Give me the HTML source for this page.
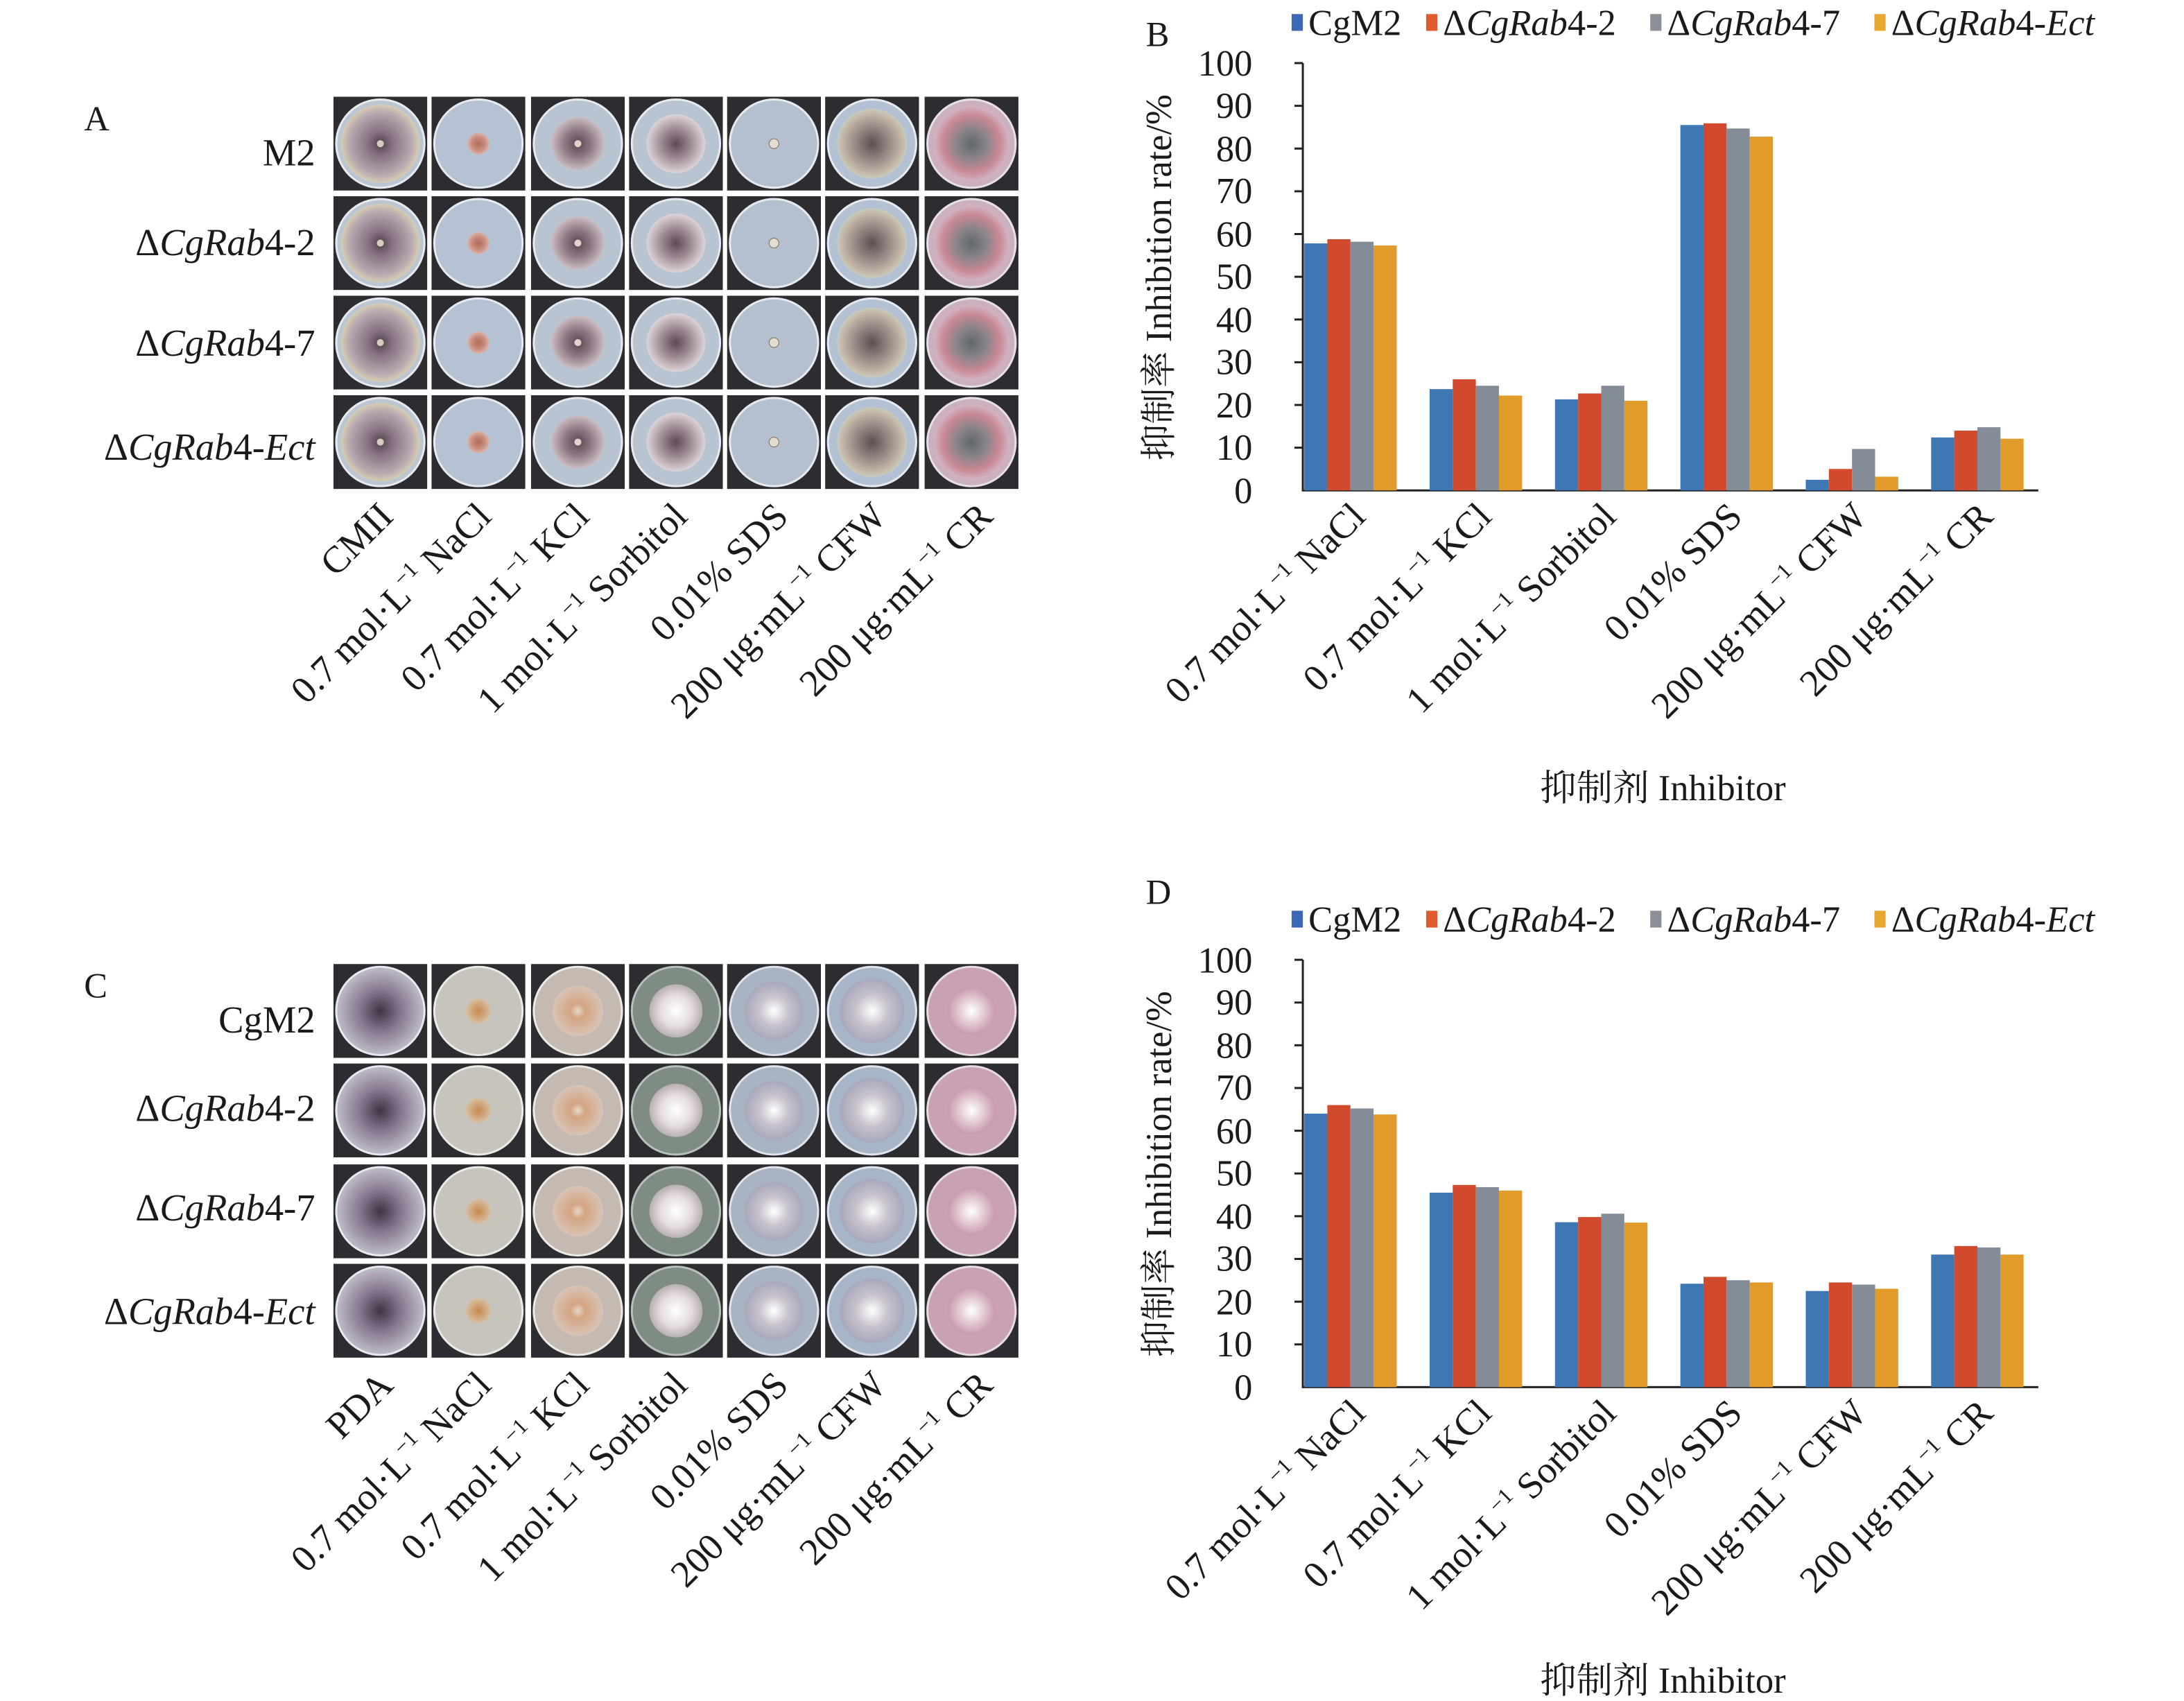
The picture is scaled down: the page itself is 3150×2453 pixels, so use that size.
<!DOCTYPE html>
<html><head><meta charset="utf-8"><style>
html,body{margin:0;padding:0;background:#fff}
svg{display:block}
text{font-family:"Liberation Serif","Noto Serif CJK SC",serif;fill:#1a1a1a}
.it{font-style:italic}
</style></head><body>
<svg width="3150" height="2453" viewBox="0 0 1559 1214" xmlns="http://www.w3.org/2000/svg">
<defs>
<radialGradient id="gA0"><stop offset="0" stop-color="#4f3f48"/><stop offset="0.3" stop-color="#857080"/><stop offset="0.8" stop-color="#b8a9b0"/><stop offset="1" stop-color="#d6cdb2"/></radialGradient>
<radialGradient id="gA1"><stop offset="0" stop-color="#b46a5c"/><stop offset="0.6" stop-color="#c98d7e"/><stop offset="1" stop-color="#d8b8b0"/></radialGradient>
<radialGradient id="gA2"><stop offset="0" stop-color="#5a4652"/><stop offset="0.5" stop-color="#8e7884"/><stop offset="1" stop-color="#cbbcc2"/></radialGradient>
<radialGradient id="gA3"><stop offset="0" stop-color="#5e4a56"/><stop offset="0.5" stop-color="#9e8a94"/><stop offset="1" stop-color="#ddd4d8"/></radialGradient>
<radialGradient id="gA5"><stop offset="0" stop-color="#5e4e4e"/><stop offset="0.5" stop-color="#9a8a88"/><stop offset="0.85" stop-color="#c4b6a6"/><stop offset="1" stop-color="#c8ccc0"/></radialGradient>
<radialGradient id="gA6"><stop offset="0" stop-color="#60686c"/><stop offset="0.4" stop-color="#8a848a"/><stop offset="0.75" stop-color="#c98894"/><stop offset="1" stop-color="#d2b4c4"/></radialGradient>
<radialGradient id="gC0"><stop offset="0" stop-color="#3e3446"/><stop offset="0.5" stop-color="#84768e"/><stop offset="1" stop-color="#b8b2c0"/></radialGradient>
<radialGradient id="gC1"><stop offset="0" stop-color="#c8884e"/><stop offset="1" stop-color="#d6c0a4"/></radialGradient>
<radialGradient id="gC2"><stop offset="0" stop-color="#e8d8cc"/><stop offset="0.3" stop-color="#d4a482"/><stop offset="1" stop-color="#d8c4b6"/></radialGradient>
<radialGradient id="gC3"><stop offset="0" stop-color="#ffffff"/><stop offset="0.6" stop-color="#e4dcdc"/><stop offset="1" stop-color="#b8b0b0"/></radialGradient>
<radialGradient id="gC4"><stop offset="0" stop-color="#ffffff"/><stop offset="0.5" stop-color="#c8c2cc"/><stop offset="1" stop-color="#a8a8bc"/></radialGradient>
<radialGradient id="gC6"><stop offset="0" stop-color="#ffffff"/><stop offset="0.5" stop-color="#e4ccd6"/><stop offset="1" stop-color="#c89aae"/></radialGradient>

<symbol id="a0" viewBox="0 0 67 67"><rect width="67" height="67" fill="#2c2c31"/><circle cx="33.5" cy="33.5" r="31.5" fill="#bcc6d2" stroke="#e6eaee" stroke-width="1.5"/><circle cx="33.5" cy="33.5" r="28" fill="url(#gA0)"/><circle cx="33.5" cy="33.5" r="2.5" fill="#d8ccc0"/></symbol>
<symbol id="a1" viewBox="0 0 67 67"><rect width="67" height="67" fill="#2c2c31"/><circle cx="33.5" cy="33.5" r="31.5" fill="#b4c2d4" stroke="#e6eaee" stroke-width="1.5"/><circle cx="33.5" cy="33.5" r="8" fill="url(#gA1)"/></symbol>
<symbol id="a2" viewBox="0 0 67 67"><rect width="67" height="67" fill="#2c2c31"/><circle cx="33.5" cy="33.5" r="31.5" fill="#b8c4d2" stroke="#e6eaee" stroke-width="1.5"/><circle cx="33.5" cy="33.5" r="19" fill="url(#gA2)"/><circle cx="33.5" cy="33.5" r="2.5" fill="#e0d4c8"/></symbol>
<symbol id="a3" viewBox="0 0 67 67"><rect width="67" height="67" fill="#2c2c31"/><circle cx="33.5" cy="33.5" r="31.5" fill="#b8c4d2" stroke="#e6eaee" stroke-width="1.5"/><circle cx="33.5" cy="33.5" r="21" fill="url(#gA3)"/></symbol>
<symbol id="a4" viewBox="0 0 67 67"><rect width="67" height="67" fill="#2c2c31"/><circle cx="33.5" cy="33.5" r="31.5" fill="#b4c0d0" stroke="#e6eaee" stroke-width="1.5"/><circle cx="33.5" cy="33.5" r="3.5" fill="#e4ddd4" stroke="#8a7a6a" stroke-width="0.6"/></symbol>
<symbol id="a5" viewBox="0 0 67 67"><rect width="67" height="67" fill="#2c2c31"/><circle cx="33.5" cy="33.5" r="31.5" fill="#b2c2d4" stroke="#e6eaee" stroke-width="1.5"/><circle cx="33.5" cy="33.5" r="25" fill="url(#gA5)"/></symbol>
<symbol id="a6" viewBox="0 0 67 67"><rect width="67" height="67" fill="#2c2c31"/><circle cx="33.5" cy="33.5" r="31.5" fill="#ccb0c0" stroke="#e6e0e6" stroke-width="1.5"/><circle cx="33.5" cy="33.5" r="27" fill="url(#gA6)"/></symbol>

<symbol id="c0" viewBox="0 0 67 67"><rect width="67" height="67" fill="#2c2c31"/><circle cx="33.5" cy="33.5" r="31.5" fill="#b8b6c2" stroke="#e6eaee" stroke-width="1.5"/><circle cx="33.5" cy="33.5" r="29" fill="url(#gC0)"/></symbol>
<symbol id="c1" viewBox="0 0 67 67"><rect width="67" height="67" fill="#2c2c31"/><circle cx="33.5" cy="33.5" r="31.5" fill="#c6c4bc" stroke="#eceae6" stroke-width="1.5"/><circle cx="33.5" cy="33.5" r="9" fill="url(#gC1)"/></symbol>
<symbol id="c2" viewBox="0 0 67 67"><rect width="67" height="67" fill="#2c2c31"/><circle cx="33.5" cy="33.5" r="31.5" fill="#c4bab2" stroke="#eceae6" stroke-width="1.5"/><circle cx="33.5" cy="33.5" r="18" fill="url(#gC2)"/></symbol>
<symbol id="c3" viewBox="0 0 67 67"><rect width="67" height="67" fill="#2c2c31"/><circle cx="33.5" cy="33.5" r="31.5" fill="#7e8c84" stroke="#b8c0bc" stroke-width="1.5"/><circle cx="33.5" cy="33.5" r="19" fill="url(#gC3)"/></symbol>
<symbol id="c4" viewBox="0 0 67 67"><rect width="67" height="67" fill="#2c2c31"/><circle cx="33.5" cy="33.5" r="31.5" fill="#a8b4c4" stroke="#e0e4ea" stroke-width="1.5"/><circle cx="33.5" cy="33.5" r="21" fill="url(#gC4)"/></symbol>
<symbol id="c5" viewBox="0 0 67 67"><rect width="67" height="67" fill="#2c2c31"/><circle cx="33.5" cy="33.5" r="31.5" fill="#a6b6c8" stroke="#e0e4ea" stroke-width="1.5"/><circle cx="33.5" cy="33.5" r="23" fill="url(#gC4)"/></symbol>
<symbol id="c6" viewBox="0 0 67 67"><rect width="67" height="67" fill="#2c2c31"/><circle cx="33.5" cy="33.5" r="31.5" fill="#c8a2b4" stroke="#e6dce2" stroke-width="1.5"/><circle cx="33.5" cy="33.5" r="17" fill="url(#gC6)"/></symbol>
</defs>

<!-- Panel A -->
<text x="60" y="93" font-size="25">A</text>
<g font-size="27" text-anchor="end">
<text x="225" y="118">M2</text>
<text x="225" y="182">Δ<tspan class="it">CgRab</tspan>4-2</text>
<text x="225" y="254">Δ<tspan class="it">CgRab</tspan>4-7</text>
<text x="225" y="328">Δ<tspan class="it">CgRab</tspan>4-<tspan class="it">Ect</tspan></text>
</g>
<g>
<use href="#a0" x="238" y="69" width="67" height="67"/><use href="#a1" x="308" y="69" width="67" height="67"/><use href="#a2" x="379" y="69" width="67" height="67"/><use href="#a3" x="449" y="69" width="67" height="67"/><use href="#a4" x="519" y="69" width="67" height="67"/><use href="#a5" x="589" y="69" width="67" height="67"/><use href="#a6" x="660" y="69" width="67" height="67"/>
<use href="#a0" x="238" y="140" width="67" height="67"/><use href="#a1" x="308" y="140" width="67" height="67"/><use href="#a2" x="379" y="140" width="67" height="67"/><use href="#a3" x="449" y="140" width="67" height="67"/><use href="#a4" x="519" y="140" width="67" height="67"/><use href="#a5" x="589" y="140" width="67" height="67"/><use href="#a6" x="660" y="140" width="67" height="67"/>
<use href="#a0" x="238" y="211" width="67" height="67"/><use href="#a1" x="308" y="211" width="67" height="67"/><use href="#a2" x="379" y="211" width="67" height="67"/><use href="#a3" x="449" y="211" width="67" height="67"/><use href="#a4" x="519" y="211" width="67" height="67"/><use href="#a5" x="589" y="211" width="67" height="67"/><use href="#a6" x="660" y="211" width="67" height="67"/>
<use href="#a0" x="238" y="282" width="67" height="67"/><use href="#a1" x="308" y="282" width="67" height="67"/><use href="#a2" x="379" y="282" width="67" height="67"/><use href="#a3" x="449" y="282" width="67" height="67"/><use href="#a4" x="519" y="282" width="67" height="67"/><use href="#a5" x="589" y="282" width="67" height="67"/><use href="#a6" x="660" y="282" width="67" height="67"/>
</g>
<g font-size="27" text-anchor="end">
<text transform="translate(282,370) rotate(-45)">CMII</text>
<text transform="translate(352,370) rotate(-45)">0.7 mol·L<tspan font-size="16" dy="-11">−1</tspan><tspan dy="11"> NaCl</tspan></text>
<text transform="translate(422,370) rotate(-45)">0.7 mol·L<tspan font-size="16" dy="-11">−1</tspan><tspan dy="11"> KCl</tspan></text>
<text transform="translate(492,370) rotate(-45)">1 mol·L<tspan font-size="16" dy="-11">−1</tspan><tspan dy="11"> Sorbitol</tspan></text>
<text transform="translate(564,370) rotate(-45)">0.01% SDS</text>
<text transform="translate(634,370) rotate(-45)">200 μg·mL<tspan font-size="16" dy="-11">−1</tspan><tspan dy="11"> CFW</tspan></text>
<text transform="translate(710,370) rotate(-45)">200 μg·mL<tspan font-size="16" dy="-11">−1</tspan><tspan dy="11"> CR</tspan></text>
</g>

<!-- Panel C -->
<text x="60" y="712" font-size="25">C</text>
<g font-size="27" text-anchor="end">
<text x="225" y="737">CgM2</text>
<text x="225" y="800">Δ<tspan class="it">CgRab</tspan>4-2</text>
<text x="225" y="871">Δ<tspan class="it">CgRab</tspan>4-7</text>
<text x="225" y="945">Δ<tspan class="it">CgRab</tspan>4-<tspan class="it">Ect</tspan></text>
</g>
<g>
<use href="#c0" x="238" y="688" width="67" height="67"/><use href="#c1" x="308" y="688" width="67" height="67"/><use href="#c2" x="379" y="688" width="67" height="67"/><use href="#c3" x="449" y="688" width="67" height="67"/><use href="#c4" x="519" y="688" width="67" height="67"/><use href="#c5" x="589" y="688" width="67" height="67"/><use href="#c6" x="660" y="688" width="67" height="67"/>
<use href="#c0" x="238" y="759" width="67" height="67"/><use href="#c1" x="308" y="759" width="67" height="67"/><use href="#c2" x="379" y="759" width="67" height="67"/><use href="#c3" x="449" y="759" width="67" height="67"/><use href="#c4" x="519" y="759" width="67" height="67"/><use href="#c5" x="589" y="759" width="67" height="67"/><use href="#c6" x="660" y="759" width="67" height="67"/>
<use href="#c0" x="238" y="831" width="67" height="67"/><use href="#c1" x="308" y="831" width="67" height="67"/><use href="#c2" x="379" y="831" width="67" height="67"/><use href="#c3" x="449" y="831" width="67" height="67"/><use href="#c4" x="519" y="831" width="67" height="67"/><use href="#c5" x="589" y="831" width="67" height="67"/><use href="#c6" x="660" y="831" width="67" height="67"/>
<use href="#c0" x="238" y="902" width="67" height="67"/><use href="#c1" x="308" y="902" width="67" height="67"/><use href="#c2" x="379" y="902" width="67" height="67"/><use href="#c3" x="449" y="902" width="67" height="67"/><use href="#c4" x="519" y="902" width="67" height="67"/><use href="#c5" x="589" y="902" width="67" height="67"/><use href="#c6" x="660" y="902" width="67" height="67"/>
</g>
<g font-size="27" text-anchor="end">
<text transform="translate(282,990) rotate(-45)">PDA</text>
<text transform="translate(352,990) rotate(-45)">0.7 mol·L<tspan font-size="16" dy="-11">−1</tspan><tspan dy="11"> NaCl</tspan></text>
<text transform="translate(422,990) rotate(-45)">0.7 mol·L<tspan font-size="16" dy="-11">−1</tspan><tspan dy="11"> KCl</tspan></text>
<text transform="translate(492,990) rotate(-45)">1 mol·L<tspan font-size="16" dy="-11">−1</tspan><tspan dy="11"> Sorbitol</tspan></text>
<text transform="translate(564,990) rotate(-45)">0.01% SDS</text>
<text transform="translate(634,990) rotate(-45)">200 μg·mL<tspan font-size="16" dy="-11">−1</tspan><tspan dy="11"> CFW</tspan></text>
<text transform="translate(710,990) rotate(-45)">200 μg·mL<tspan font-size="16" dy="-11">−1</tspan><tspan dy="11"> CR</tspan></text>
</g>

<!-- Panel B -->
<g>
<text x="818" y="33" font-size="25">B</text>
<g font-size="26">
<rect x="922" y="10" width="8" height="12" fill="#3f67b8"/><text x="934" y="25">CgM2</text>
<rect x="1018" y="10" width="8" height="12" fill="#e05a30"/><text x="1030" y="25">Δ<tspan class="it">CgRab</tspan>4-2</text>
<rect x="1178" y="10" width="8" height="12" fill="#8c9096"/><text x="1190" y="25">Δ<tspan class="it">CgRab</tspan>4-7</text>
<rect x="1338" y="10" width="8" height="12" fill="#e8a830"/><text x="1350" y="25">Δ<tspan class="it">CgRab</tspan>4-<tspan class="it">Ect</tspan></text>
</g>
<g font-size="26" text-anchor="end">
<text x="894" y="359">0</text><text x="894" y="328">10</text><text x="894" y="298">20</text><text x="894" y="267">30</text><text x="894" y="237">40</text><text x="894" y="206">50</text><text x="894" y="176">60</text><text x="894" y="145">70</text><text x="894" y="115">80</text><text x="894" y="84">90</text><text x="894" y="54">100</text>
</g>
<path d="M930 45V350H1455 M924 45H930 M924 75.5H930 M924 106H930 M924 136.5H930 M924 167H930 M924 197.5H930 M924 228H930 M924 258.5H930 M924 289H930 M924 319.5H930" stroke="#222" stroke-width="1.5" fill="none"/>
<g>
<rect x="931" y="173.7" width="16.5" height="176.3" fill="#3f77b4"/><rect x="947.5" y="170.7" width="16.5" height="179.3" fill="#d24a2e"/><rect x="964" y="172.5" width="16.5" height="177.5" fill="#848d97"/><rect x="980.5" y="175.2" width="16.5" height="174.8" fill="#e19b2a"/>
<rect x="1020.5" y="277.7" width="16.5" height="72.3" fill="#3f77b4"/><rect x="1037" y="270.7" width="16.5" height="79.3" fill="#d24a2e"/><rect x="1053.5" y="275.3" width="16.5" height="74.7" fill="#848d97"/><rect x="1070" y="282.3" width="16.5" height="67.7" fill="#e19b2a"/>
<rect x="1110" y="285" width="16.5" height="65" fill="#3f77b4"/><rect x="1126.5" y="280.8" width="16.5" height="69.2" fill="#d24a2e"/><rect x="1143" y="275.3" width="16.5" height="74.7" fill="#848d97"/><rect x="1159.5" y="286" width="16.5" height="64" fill="#e19b2a"/>
<rect x="1199.5" y="89.2" width="16.5" height="260.8" fill="#3f77b4"/><rect x="1216" y="88" width="16.5" height="262" fill="#d24a2e"/><rect x="1232.5" y="91.7" width="16.5" height="258.3" fill="#848d97"/><rect x="1249" y="97.5" width="16.5" height="252.5" fill="#e19b2a"/>
<rect x="1289" y="342.4" width="16.5" height="7.6" fill="#3f77b4"/><rect x="1305.5" y="334.7" width="16.5" height="15.3" fill="#d24a2e"/><rect x="1322" y="320.4" width="16.5" height="29.6" fill="#848d97"/><rect x="1338.5" y="340.2" width="16.5" height="9.8" fill="#e19b2a"/>
<rect x="1378.5" y="312.2" width="16.5" height="37.8" fill="#3f77b4"/><rect x="1395" y="307.3" width="16.5" height="42.7" fill="#d24a2e"/><rect x="1411.5" y="304.9" width="16.5" height="45.1" fill="#848d97"/><rect x="1428" y="313.1" width="16.5" height="36.9" fill="#e19b2a"/>
</g>
<g font-size="27" text-anchor="end">
<text transform="translate(976,370) rotate(-45)">0.7 mol·L<tspan font-size="16" dy="-11">−1</tspan><tspan dy="11"> NaCl</tspan></text>
<text transform="translate(1066,370) rotate(-45)">0.7 mol·L<tspan font-size="16" dy="-11">−1</tspan><tspan dy="11"> KCl</tspan></text>
<text transform="translate(1155,370) rotate(-45)">1 mol·L<tspan font-size="16" dy="-11">−1</tspan><tspan dy="11"> Sorbitol</tspan></text>
<text transform="translate(1245,370) rotate(-45)">0.01% SDS</text>
<text transform="translate(1334,370) rotate(-45)">200 μg·mL<tspan font-size="16" dy="-11">−1</tspan><tspan dy="11"> CFW</tspan></text>
<text transform="translate(1424,370) rotate(-45)">200 μg·mL<tspan font-size="16" dy="-11">−1</tspan><tspan dy="11"> CR</tspan></text>
</g>
<text transform="translate(836,198) rotate(-90)" font-size="26" text-anchor="middle">抑制率 Inhibition rate/%</text>
<text x="1187" y="571" font-size="26" text-anchor="middle">抑制剂 Inhibitor</text>
</g>

<!-- Panel D -->
<g transform="translate(0,640)">
<text x="818" y="5" font-size="25">D</text>
<g font-size="26">
<rect x="922" y="10" width="8" height="12" fill="#3f67b8"/><text x="934" y="25">CgM2</text>
<rect x="1018" y="10" width="8" height="12" fill="#e05a30"/><text x="1030" y="25">Δ<tspan class="it">CgRab</tspan>4-2</text>
<rect x="1178" y="10" width="8" height="12" fill="#8c9096"/><text x="1190" y="25">Δ<tspan class="it">CgRab</tspan>4-7</text>
<rect x="1338" y="10" width="8" height="12" fill="#e8a830"/><text x="1350" y="25">Δ<tspan class="it">CgRab</tspan>4-<tspan class="it">Ect</tspan></text>
</g>
<g font-size="26" text-anchor="end">
<text x="894" y="359">0</text><text x="894" y="328">10</text><text x="894" y="298">20</text><text x="894" y="267">30</text><text x="894" y="237">40</text><text x="894" y="206">50</text><text x="894" y="176">60</text><text x="894" y="145">70</text><text x="894" y="115">80</text><text x="894" y="84">90</text><text x="894" y="54">100</text>
</g>
<path d="M930 45V350H1455 M924 45H930 M924 75.5H930 M924 106H930 M924 136.5H930 M924 167H930 M924 197.5H930 M924 228H930 M924 258.5H930 M924 289H930 M924 319.5H930" stroke="#222" stroke-width="1.5" fill="none"/>
<g>
<rect x="931" y="154.8" width="16.5" height="195.2" fill="#3f77b4"/><rect x="947.5" y="148.7" width="16.5" height="201.3" fill="#d24a2e"/><rect x="964" y="151.1" width="16.5" height="198.9" fill="#848d97"/><rect x="980.5" y="155.4" width="16.5" height="194.6" fill="#e19b2a"/>
<rect x="1020.5" y="211.2" width="16.5" height="138.8" fill="#3f77b4"/><rect x="1037" y="205.7" width="16.5" height="144.3" fill="#d24a2e"/><rect x="1053.5" y="207.3" width="16.5" height="142.7" fill="#848d97"/><rect x="1070" y="209.7" width="16.5" height="140.3" fill="#e19b2a"/>
<rect x="1110" y="232.3" width="16.5" height="117.7" fill="#3f77b4"/><rect x="1126.5" y="228.6" width="16.5" height="121.4" fill="#d24a2e"/><rect x="1143" y="226.2" width="16.5" height="123.8" fill="#848d97"/><rect x="1159.5" y="232.6" width="16.5" height="117.4" fill="#e19b2a"/>
<rect x="1199.5" y="276.2" width="16.5" height="73.8" fill="#3f77b4"/><rect x="1216" y="271.3" width="16.5" height="78.7" fill="#d24a2e"/><rect x="1232.5" y="273.7" width="16.5" height="76.3" fill="#848d97"/><rect x="1249" y="275.3" width="16.5" height="74.7" fill="#e19b2a"/>
<rect x="1289" y="281.4" width="16.5" height="68.6" fill="#3f77b4"/><rect x="1305.5" y="275.3" width="16.5" height="74.7" fill="#d24a2e"/><rect x="1322" y="276.8" width="16.5" height="73.2" fill="#848d97"/><rect x="1338.5" y="279.8" width="16.5" height="70.2" fill="#e19b2a"/>
<rect x="1378.5" y="255.4" width="16.5" height="94.6" fill="#3f77b4"/><rect x="1395" y="249.3" width="16.5" height="100.7" fill="#d24a2e"/><rect x="1411.5" y="250.3" width="16.5" height="99.7" fill="#848d97"/><rect x="1428" y="255.4" width="16.5" height="94.6" fill="#e19b2a"/>
</g>
<g font-size="27" text-anchor="end">
<text transform="translate(976,370) rotate(-45)">0.7 mol·L<tspan font-size="16" dy="-11">−1</tspan><tspan dy="11"> NaCl</tspan></text>
<text transform="translate(1066,370) rotate(-45)">0.7 mol·L<tspan font-size="16" dy="-11">−1</tspan><tspan dy="11"> KCl</tspan></text>
<text transform="translate(1155,370) rotate(-45)">1 mol·L<tspan font-size="16" dy="-11">−1</tspan><tspan dy="11"> Sorbitol</tspan></text>
<text transform="translate(1245,370) rotate(-45)">0.01% SDS</text>
<text transform="translate(1334,370) rotate(-45)">200 μg·mL<tspan font-size="16" dy="-11">−1</tspan><tspan dy="11"> CFW</tspan></text>
<text transform="translate(1424,370) rotate(-45)">200 μg·mL<tspan font-size="16" dy="-11">−1</tspan><tspan dy="11"> CR</tspan></text>
</g>
<text transform="translate(836,198) rotate(-90)" font-size="26" text-anchor="middle">抑制率 Inhibition rate/%</text>
<text x="1187" y="568" font-size="26" text-anchor="middle">抑制剂 Inhibitor</text>
</g>
</svg>
</body></html>
